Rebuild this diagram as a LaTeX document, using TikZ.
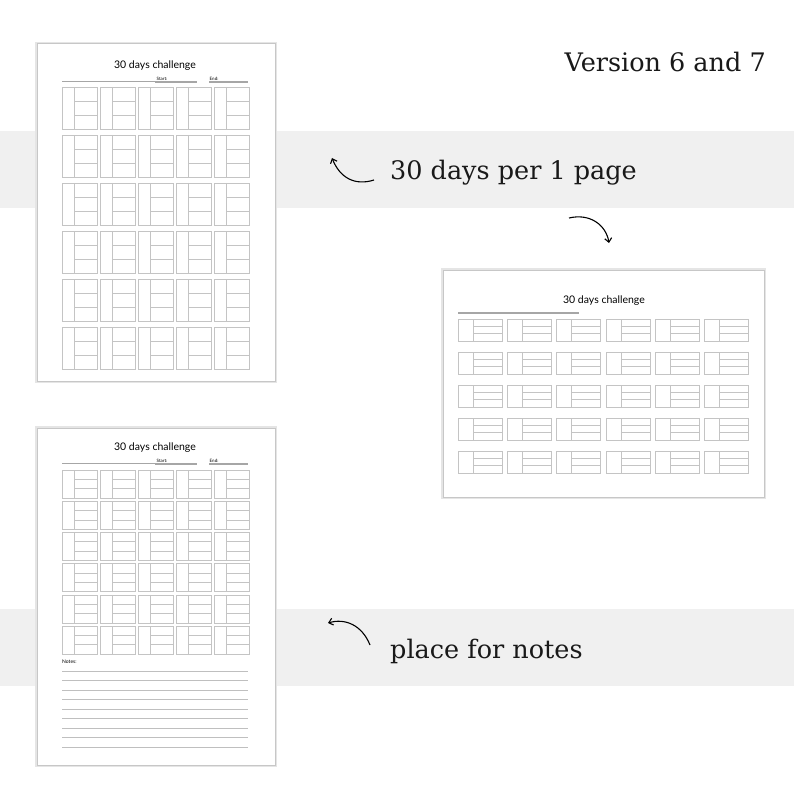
\documentclass[tikz,border=0pt]{standalone}
\usepackage{fontspec}
\setmainfont{DejaVu Serif}
\newfontfamily\lato{Lato}
\usetikzlibrary{arrows.meta}
\definecolor{band}{HTML}{F0F0F0}
\definecolor{cellc}{HTML}{C4C4C4}
\tikzset{
 pagebox/.style={fill=white,draw=black!22,line width=1pt},
 pageshadow/.style={draw=black!10,line width=4pt},
 cellline/.style={draw=cellc,line width=0.5pt},
 headline/.style={draw=black!35,line width=1.1pt},
 noteline/.style={draw=black!25,line width=0.6pt},
 bigtxt/.style={font=\fontsize{25.5}{30}\selectfont,text=black!90,inner sep=0pt},
 arr/.style={line width=1.1pt,-{Straight Barb[length=4pt,width=7pt]}}
}
\newcommand\pcell[5]{% x y w h offset
 \draw[cellline] (#1,#2) rectangle ++(#3,#4);
 \draw[cellline] (#1+#5,#2) -- ++(0,#4);
 \draw[cellline] (#1+#5,#2+#4/3) -- (#1+#3,#2+#4/3);
 \draw[cellline] (#1+#5,#2+2*#4/3) -- (#1+#3,#2+2*#4/3);
}
\begin{document}
\begin{tikzpicture}[x=1pt,y=-1pt]
\useasboundingbox (0,0) rectangle (794,794);
\fill[white] (0,0) rectangle (794,794);
\fill[band] (0,131) rectangle (794,208);
\fill[band] (0,609) rectangle (794,686);
% page 1
\draw[pageshadow] (37,44) rectangle (275,381);
\draw[pagebox] (37,44) rectangle (275,381);
\node[font=\lato\fontsize{10.5}{12}\selectfont] (t1) at (155,66) {30 days challenge};
\draw[headline] (62,81.5) -- (197,81.5);
\node[font=\lato\fontsize{4.5}{5}\selectfont,anchor=south west,inner sep=0.5pt] (s1) at (156,81) {Start:};
\draw[headline] (155,82) -- (197,82);
\node[font=\lato\fontsize{4.5}{5}\selectfont,anchor=south west,inner sep=0.5pt] (e1) at (209,81) {End:};
\draw[headline] (209,82) -- (248,82);
\foreach \c in {0,...,4}{\foreach \r in {0,...,5}{\pcell{62+38*\c}{87+48*\r}{35}{42}{12}}}
% page 3
\draw[pageshadow] (37,428) rectangle (275,765);
\draw[pagebox] (37,428) rectangle (275,765);
\node[font=\lato\fontsize{10.5}{12}\selectfont] (t3) at (155,448) {30 days challenge};
\draw[headline] (62,463.5) -- (197,463.5);
\node[font=\lato\fontsize{4.5}{5}\selectfont,anchor=south west,inner sep=0.5pt] (s3) at (156,463) {Start:};
\draw[headline] (155,464) -- (197,464);
\node[font=\lato\fontsize{4.5}{5}\selectfont,anchor=south west,inner sep=0.5pt] (e3) at (209,463) {End:};
\draw[headline] (209,464) -- (248,464);
\foreach \c in {0,...,4}{\foreach \r in {0,...,5}{\pcell{62+38*\c}{470+31.2*\r}{35}{28}{12}}}
\node[font=\lato\fontsize{5}{6}\selectfont,anchor=west,inner sep=0pt] (n3) at (62,662) {Notes:};
\foreach \i in {0,...,8}{\draw[noteline] (62,671+9.5*\i) -- (248,671+9.5*\i);}
% page 2
\draw[pageshadow] (443,270) rectangle (764,497);
\draw[pagebox] (443,270) rectangle (764,497);
\node[font=\lato\fontsize{10.5}{12}\selectfont] (t2) at (604,301) {30 days challenge};
\draw[headline] (458,313) -- (579,313);
\foreach \c in {0,...,5}{\foreach \r in {0,...,4}{\pcell{458+49.3*\c}{319+33*\r}{44}{22}{15}}}
% texts
\node[bigtxt,anchor=east] (v) at (766,62) {Version 6 and 7};
\node[bigtxt,anchor=west] (p1) at (390,173) {30 days per 1 page};
\node[bigtxt,anchor=west] (pn) at (390,651) {place for notes};
% arrows
\coordinate (a1s) at (374,180); \coordinate (a1e) at (332,158);
\draw[arr] (a1s) .. controls (355,186) and (340,178) .. (a1e);
\coordinate (a2s) at (569,218); \coordinate (a2e) at (609,243);
\draw[arr] (a2s) .. controls (590,213) and (606,225) .. (a2e);
\coordinate (a3s) at (370,645); \coordinate (a3e) at (328,623);
\draw[arr] (a3s) .. controls (362,625) and (345,618) .. (a3e);
\end{tikzpicture}
\end{document}
